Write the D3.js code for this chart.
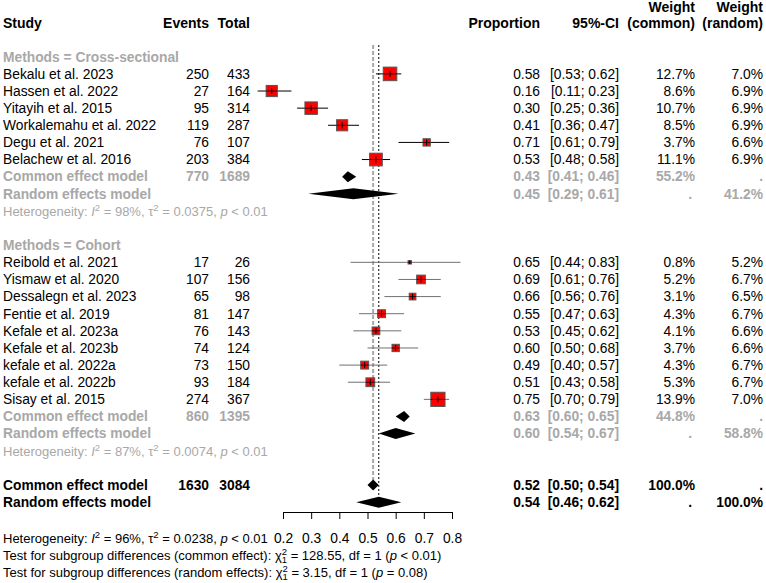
<!DOCTYPE html>
<html>
<head>
<meta charset="utf-8">
<script src="https://cdn.jsdelivr.net/npm/d3@7"></script>
<style>
  body { margin: 0; background: #fff; }
  svg text { font-family: "Liberation Sans", Arial, sans-serif; font-size: 13.8px; }
</style>
</head>
<body>
<div id="chart"></div>
<script>
// Forest plot - proportion by study design (meta-analysis output)

// ---- data ----
const groupNames = ['Cross-sectional', 'Cohort'];
const studies = [
    'Bekalu et al. 2023', 'Hassen et al. 2022', 'Yitayih et al. 2015', 'Workalemahu et al. 2022',
    'Degu et al. 2021', 'Belachew et al. 2016',
    'Reibold et al. 2021', 'Yismaw et al. 2020', 'Dessalegn et al. 2023', 'Fentie et al. 2019',
    'Kefale et al. 2023a', 'Kefale et al. 2023b', 'kefale et al. 2022a', 'kefale et al. 2022b',
    'Sisay et al. 2015'
];
const studyGroup = [0, 0, 0, 0, 0, 0, 1, 1, 1, 1, 1, 1, 1, 1, 1];
const events = [250, 27, 95, 119, 76, 203, 17, 107, 65, 81, 76, 74, 73, 93, 274];
const totals = [433, 164, 314, 287, 107, 384, 26, 156, 98, 147, 143, 124, 150, 184, 367];
const proportion = [0.58, 0.16, 0.30, 0.41, 0.71, 0.53, 0.65, 0.69, 0.66, 0.55, 0.53, 0.60, 0.49, 0.51, 0.75];
const ciLower = [0.53, 0.11, 0.25, 0.36, 0.61, 0.48, 0.44, 0.61, 0.56, 0.47, 0.45, 0.50, 0.40, 0.43, 0.70];
const ciUpper = [0.62, 0.23, 0.36, 0.47, 0.79, 0.58, 0.83, 0.76, 0.76, 0.63, 0.62, 0.68, 0.57, 0.58, 0.79];
const weightCommon = [12.7, 8.6, 10.7, 8.5, 3.7, 11.1, 0.8, 5.2, 3.1, 4.3, 4.1, 3.7, 4.3, 5.3, 13.9];
const weightRandom = [7.0, 6.9, 6.9, 6.9, 6.6, 6.9, 5.2, 6.7, 6.5, 6.7, 6.6, 6.6, 6.7, 6.7, 7.0];

// subgroup pooled estimates (per group: [estimate, lower, upper])
const subEvents = [770, 860];
const subTotals = [1689, 1395];
const subCommon = [[0.43, 0.41, 0.46], [0.63, 0.60, 0.65]];
const subRandom = [[0.45, 0.29, 0.61], [0.60, 0.54, 0.67]];
const subWeightCommon = [55.2, 44.8];
const subWeightRandom = [41.2, 58.8];
const subI2 = ['98%', '87%'];
const subTau2 = ['0.0375', '0.0074'];

// overall
const allEvents = 1630;
const allTotal = 3084;
const allCommon = [0.52, 0.50, 0.54];
const allRandom = [0.54, 0.46, 0.62];

const axisTicks = [0.2, 0.3, 0.4, 0.5, 0.6, 0.7, 0.8];

// ---- setup ----
const W = 766, H = 583;
const svg = d3.select('#chart').append('svg').attr('width', W).attr('height', H);

const gray = '#a8a8a8';
const x = d3.scaleLinear().domain([0.2, 0.8]).range([283, 452]);
const rowH = 17.13;
const rowY = k => 22.5 + k * rowH;
const base = 4.8;

// column anchors
const colStudy = 3, colEvents = 209, colTotal = 250, colProp = 540, colCI = 619, colWc = 695, colWr = 763;

function txt(xp, y, s, opts = {}) {
    const t = svg.append('text')
        .attr('x', xp).attr('y', y)
        .attr('text-anchor', opts.anchor || 'start')
        .attr('fill', opts.color || '#000')
        .attr('font-weight', opts.bold ? 'bold' : 'normal')
        .text(s);
    if (opts.size) t.style('font-size', opts.size);
    return t;
}
const f2 = v => v.toFixed(2);
const ci = (l, u) => `[${f2(l)}; ${f2(u)}]`;

// ---- header ----
const hy = 27.5;
const hdr = { bold: true, anchor: 'end', size: '14px' };
txt(colStudy, hy, 'Study', { bold: true, size: '14px' });
txt(colEvents, hy, 'Events', hdr);
txt(colTotal, hy, 'Total', hdr);
txt(colProp, hy, 'Proportion', hdr);
txt(colCI, hy, '95%-CI', hdr);
txt(colWc, 12, 'Weight', hdr);
txt(colWc, hy, '(common)', hdr);
txt(colWr, 12, 'Weight', hdr);
txt(colWr, hy, '(random)', hdr);

// ---- reference lines ----
const refTop = 45;
const overallRow = 27;
svg.append('line')
    .attr('x1', x(allCommon[0])).attr('x2', x(allCommon[0]))
    .attr('y1', refTop).attr('y2', rowY(overallRow) - 5)
    .attr('stroke', '#a8a8a8').attr('stroke-width', 2).attr('stroke-dasharray', '4,2');
svg.append('line')
    .attr('x1', x(allRandom[0])).attr('x2', x(allRandom[0]))
    .attr('y1', refTop).attr('y2', rowY(overallRow + 1))
    .attr('stroke', '#000').attr('stroke-width', 1).attr('stroke-dasharray', '2,2');

function diamond(y, est) {
    const half = 5.5;
    svg.append('path')
        .attr('d', `M${x(est[1])},${y} L${x(est[0])},${y - half} L${x(est[2])},${y} L${x(est[0])},${y + half} Z`)
        .attr('fill', '#000');
}

const statSize = '13px', supSize = '9.5px';
function heteroText(y, color, i2, tau2) {
    const t = txt(colStudy, y, '', { color: color, size: statSize });
    t.append('tspan').text('Heterogeneity: ');
    t.append('tspan').attr('font-style', 'italic').text('I');
    t.append('tspan').attr('dy', -5).style('font-size', supSize).text('2');
    t.append('tspan').attr('dy', 5).text(` = ${i2}, \u03c4`);
    t.append('tspan').attr('dy', -5).style('font-size', supSize).text('2');
    t.append('tspan').attr('dy', 5).text(` = ${tau2}, `);
    t.append('tspan').attr('font-style', 'italic').text('p');
    t.append('tspan').text(' < 0.01');
    return t;
}

// ---- subgroups ----
const maxSide = 14.2, maxW = d3.max(weightCommon);
let k = 2;
groupNames.forEach((g, gi) => {
    txt(colStudy, rowY(k) + base, `Methods = ${g}`, { bold: true, color: gray });
    k++;
    studies.forEach((s, i) => {
        if (studyGroup[i] !== gi) return;
        const y = rowY(k);
        txt(colStudy, y + base, s);
        txt(colEvents, y + base, events[i], { anchor: 'end' });
        txt(colTotal, y + base, totals[i], { anchor: 'end' });
        txt(colProp, y + base, f2(proportion[i]), { anchor: 'end' });
        txt(colCI, y + base, ci(ciLower[i], ciUpper[i]), { anchor: 'end' });
        txt(colWc, y + base, weightCommon[i].toFixed(1) + '%', { anchor: 'end' });
        txt(colWr, y + base, weightRandom[i].toFixed(1) + '%', { anchor: 'end' });

        const side = maxSide * Math.sqrt(weightCommon[i] / maxW);
        const lineCol = gi === 0 ? '#000' : '#707070';
        svg.append('line')
            .attr('x1', x(ciLower[i])).attr('x2', x(ciUpper[i]))
            .attr('y1', y).attr('y2', y)
            .attr('stroke', lineCol).attr('stroke-width', 1);
        svg.append('rect')
            .attr('x', x(proportion[i]) - side / 2).attr('y', y - side / 2)
            .attr('width', side).attr('height', side)
            .attr('fill', '#ff0000').attr('stroke', '#555').attr('stroke-width', 1);
        svg.append('line')
            .attr('x1', x(proportion[i]) - side / 2).attr('x2', x(proportion[i]) + side / 2)
            .attr('y1', y).attr('y2', y)
            .attr('stroke', '#000').attr('stroke-width', 0.8);
        svg.append('line')
            .attr('x1', x(proportion[i])).attr('x2', x(proportion[i]))
            .attr('y1', y - Math.min(3, side / 2)).attr('y2', y + Math.min(3, side / 2))
            .attr('stroke', '#000').attr('stroke-width', 1);
        k++;
    });
    // common effect
    let y = rowY(k);
    txt(colStudy, y + base, 'Common effect model', { bold: true, color: gray });
    txt(colEvents, y + base, subEvents[gi], { bold: true, color: gray, anchor: 'end' });
    txt(colTotal, y + base, subTotals[gi], { bold: true, color: gray, anchor: 'end' });
    txt(colProp, y + base, f2(subCommon[gi][0]), { bold: true, color: gray, anchor: 'end' });
    txt(colCI, y + base, ci(subCommon[gi][1], subCommon[gi][2]), { bold: true, color: gray, anchor: 'end' });
    txt(colWc, y + base, subWeightCommon[gi].toFixed(1) + '%', { bold: true, color: gray, anchor: 'end' });
    txt(colWr, y + base, '.', { bold: true, color: gray, anchor: 'end' });
    diamond(y, subCommon[gi]);
    k++;
    // random effects
    y = rowY(k);
    txt(colStudy, y + base, 'Random effects model', { bold: true, color: gray });
    txt(colProp, y + base, f2(subRandom[gi][0]), { bold: true, color: gray, anchor: 'end' });
    txt(colCI, y + base, ci(subRandom[gi][1], subRandom[gi][2]), { bold: true, color: gray, anchor: 'end' });
    txt(colWc - 3, y + base, '.', { bold: true, color: gray, anchor: 'end' });
    txt(colWr, y + base, subWeightRandom[gi].toFixed(1) + '%', { bold: true, color: gray, anchor: 'end' });
    diamond(y, subRandom[gi]);
    k++;
    heteroText(rowY(k) + base, gray, subI2[gi], subTau2[gi]);
    k += 2;
});

// ---- overall ----
let y = rowY(k);
txt(colStudy, y + base, 'Common effect model', { bold: true });
txt(colEvents, y + base, allEvents, { bold: true, anchor: 'end' });
txt(colTotal, y + base, allTotal, { bold: true, anchor: 'end' });
txt(colProp, y + base, f2(allCommon[0]), { bold: true, anchor: 'end' });
txt(colCI, y + base, ci(allCommon[1], allCommon[2]), { bold: true, anchor: 'end' });
txt(colWc, y + base, '100.0%', { bold: true, anchor: 'end' });
txt(colWr, y + base, '.', { bold: true, anchor: 'end' });
diamond(y, allCommon);
k++;
y = rowY(k);
txt(colStudy, y + base, 'Random effects model', { bold: true });
txt(colProp, y + base, f2(allRandom[0]), { bold: true, anchor: 'end' });
txt(colCI, y + base, ci(allRandom[1], allRandom[2]), { bold: true, anchor: 'end' });
txt(colWc - 3, y + base, '.', { bold: true, anchor: 'end' });
txt(colWr, y + base, '100.0%', { bold: true, anchor: 'end' });
diamond(y, allRandom);

// ---- axis ----
const axisY = 512;
const axisG = svg.append('g')
    .attr('transform', `translate(0,${axisY})`)
    .call(d3.axisBottom(x).tickValues(axisTicks).tickFormat(d3.format('.1f')).tickSizeOuter(0).tickSize(7).tickPadding(14));
axisG.select('.domain').attr('stroke', '#000');
axisG.selectAll('.tick line').attr('stroke', '#000');
axisG.selectAll('.tick text')
    .attr('font-family', '"Liberation Sans", Arial, sans-serif')
    .style('font-size', '13.8px').attr('fill', '#000');

// ---- bottom text ----
heteroText(542.5, '#000', '96%', '0.0238');

function subgroupTest(yb, label, chi, p) {
    const t = txt(colStudy, yb, '', { size: statSize });
    t.append('tspan').text(`Test for subgroup differences (${label}): \u03c7`);
    t.append('tspan').attr('dy', -4.5).style('font-size', supSize).text('2');
    t.append('tspan').attr('dx', -5.3).attr('dy', 8).style('font-size', supSize).text('1');
    t.append('tspan').attr('dy', -3.5).text(` = ${chi}, df = 1 (`);
    t.append('tspan').attr('font-style', 'italic').text('p');
    t.append('tspan').text(` ${p})`);
}
subgroupTest(559.5, 'common effect', '128.55', '< 0.01');
subgroupTest(576.5, 'random effects', '3.15', '= 0.08');
</script>
</body>
</html>
